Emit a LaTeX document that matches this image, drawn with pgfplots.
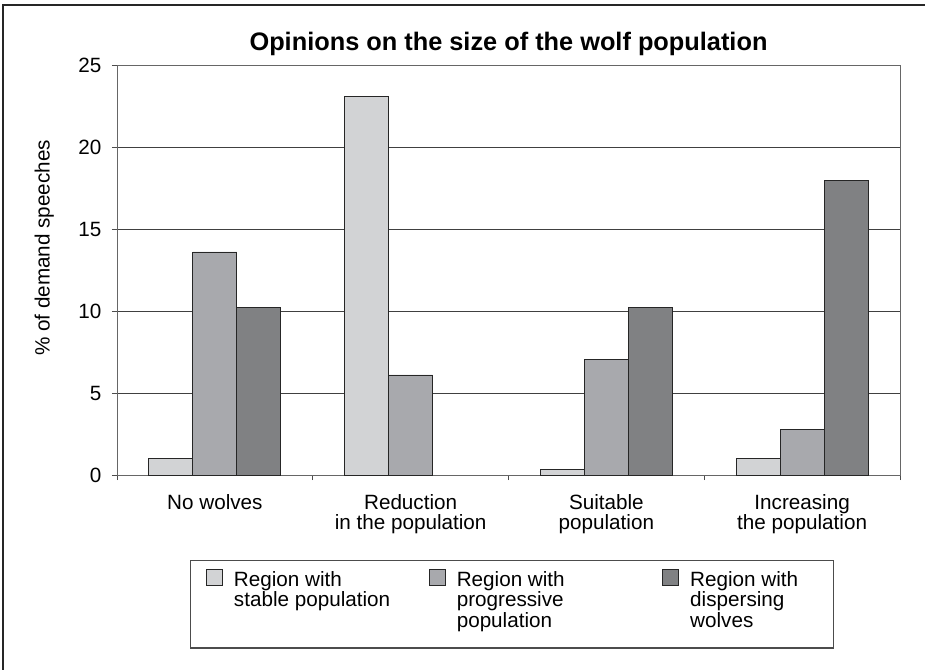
\documentclass[border=0pt]{standalone}
\usepackage{fontspec}
\setmainfont{Liberation Sans}
\usepackage{pgfplots}
\pgfplotsset{compat=1.18}

\definecolor{stablecol}{HTML}{D2D3D5}
\definecolor{progrcol}{HTML}{A8A9AD}
\definecolor{disperscol}{HTML}{808183}

\begin{document}
\begin{tikzpicture}
% page is 925 x 670 px at 0.75pt per px
\path[use as bounding box] (0,0) rectangle (693.75pt,-502.5pt);
\draw[line width=1.1pt, black!85] (2.25pt,-502.5pt) -- (2.25pt,-3.75pt) -- (693.75pt,-3.75pt);
\begin{axis}[
  at={(87.75pt,-356.25pt)}, anchor=south west,
  scale only axis, width=587.25pt, height=307.5pt,
  font=\fontsize{15.5}{15.2}\selectfont,
  /pgf/number format/assume math mode=true,
  ybar=0pt, bar width=33pt,
  xmin=-0.5, xmax=3.5, ymin=0, ymax=25,
  ytick={0,5,...,25},
  ymajorgrids, grid style={black!75, line width=0.6pt},
  axis line style={black!60, line width=0.7pt},
  tick align=outside, major tick length=3.75pt,
  xtick pos=bottom, ytick pos=left,
  tick style={black!70, line width=0.6pt},
  yticklabel style={xshift=-4.35pt},
  xtick={-0.5,0.5,1.5,2.5,3.5}, xticklabels={},
  extra x ticks={0,1,2,3},
  extra x tick labels={No wolves, {Reduction\\in the population}, {Suitable\\population}, {Increasing\\the population}},
  extra x tick style={major tick length=0pt, grid=none, xticklabel style={align=center, yshift=-11pt}},
  title={Opinions on the size of the wolf population},
  title style={font=\bfseries\fontsize{19}{22}\selectfont, at={(0.5,1)}, anchor=base, yshift=4.5pt},
  ylabel={\% of demand speeches},
  ylabel style={at={(axis description cs:-0.093,0.5537)}, anchor=center},
  legend columns=3,
  legend image code/.code={\draw[#1, draw=black!85, line width=0.6pt] (0pt,1.3pt) rectangle (12pt,13.3pt);},
  legend style={at={(axis description cs:0.0932,-0.2073)}, anchor=north west,
    draw=black!70, line width=0.8pt, inner xsep=11.75pt, inner ysep=6pt,
    nodes={inner sep=0pt, text depth=40pt}, cells={anchor=base west}, /tikz/column sep=8.25pt},
]
\addplot[fill=stablecol, draw=black!85, line width=0.6pt]
  coordinates {(0,1.0) (1,23.1) (2,0.35) (3,1.0)};
\addlegendentry{\parbox[t]{138pt}{Region with\\stable population}}
\addplot[fill=progrcol, draw=black!85, line width=0.6pt]
  coordinates {(0,13.6) (1,6.1) (2,7.05) (3,2.8)};
\addlegendentry{\parbox[t]{146pt}{Region with\\progressive\\population}}
\addplot[fill=disperscol, draw=black!85, line width=0.6pt]
  coordinates {(0,10.2) (2,10.2) (3,17.95)};
\addlegendentry{\parbox[t]{96pt}{Region with\\dispersing\\wolves}}
\end{axis}
\end{tikzpicture}
\end{document}
